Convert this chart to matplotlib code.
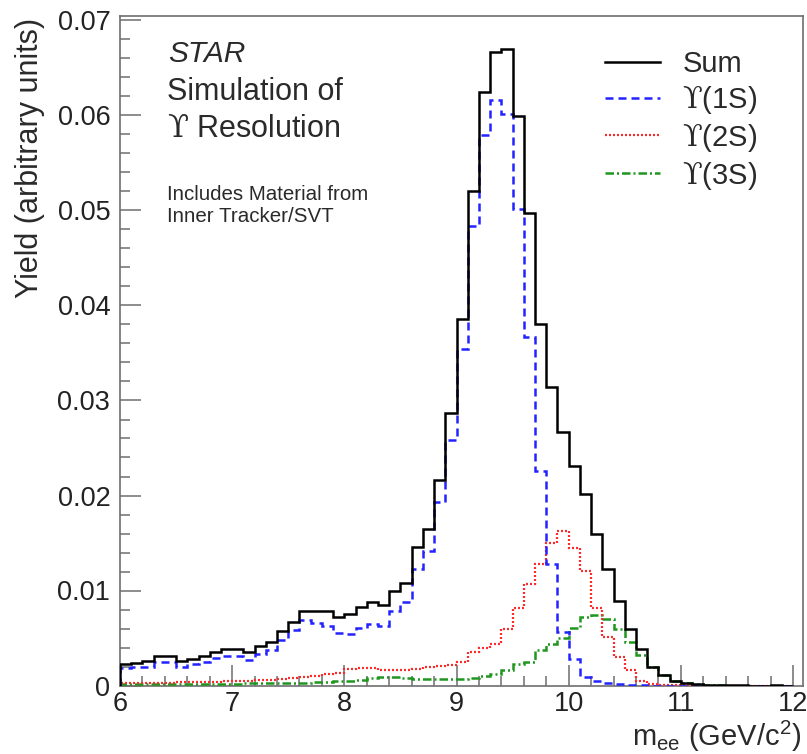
import numpy as np
import matplotlib
matplotlib.use("Agg")
import matplotlib.pyplot as plt
from matplotlib.ticker import MultipleLocator, FuncFormatter
from matplotlib.lines import Line2D

plt.rcParams['font.family'] = ['Liberation Sans', 'DejaVu Sans']
plt.rcParams['mathtext.fontset'] = 'custom'
plt.rcParams['mathtext.rm'] = 'Liberation Sans'
plt.rcParams['mathtext.it'] = 'Liberation Sans:italic'
plt.rcParams['mathtext.sf'] = 'DejaVu Serif'

# ---- data: 60 bins of 0.1 GeV from 6 to 12 ----
bin_edges = np.round(np.arange(6.0, 12.0001, 0.1), 2)

sum_vals = [
    0.0023, 0.0024, 0.0026, 0.0031, 0.0031, 0.0026, 0.0028, 0.0031, 0.0035, 0.0038,
    0.0038, 0.0035, 0.0042, 0.0046, 0.0057, 0.0067, 0.0078, 0.0078, 0.0078, 0.0072,
    0.0075, 0.0083, 0.0088, 0.0085, 0.0100, 0.0108, 0.0146, 0.0165, 0.0216, 0.0287,
    0.0386, 0.0521, 0.0625, 0.0667, 0.0670, 0.0599, 0.0497, 0.0381, 0.0314, 0.0267,
    0.0231, 0.0202, 0.0160, 0.0123, 0.0089, 0.0060, 0.0038, 0.0020, 0.0011, 0.0005,
    0.0003, 0.0002, 0.0001, 0.0001, 0.0001, 0.0001, 0.0000, 0.0000, 0.0001, 0.0000,
]
ups1s_vals = [
    0.0018, 0.0019, 0.0020, 0.0025, 0.0025, 0.0020, 0.0023, 0.0025, 0.0029, 0.0031,
    0.0031, 0.0027, 0.0033, 0.0037, 0.0048, 0.0058, 0.0069, 0.0066, 0.0063, 0.0055,
    0.0054, 0.0061, 0.0065, 0.0063, 0.0078, 0.0088, 0.0123, 0.0142, 0.0193, 0.0258,
    0.0354, 0.0484, 0.0579, 0.0616, 0.0602, 0.0502, 0.0367, 0.0226, 0.0128, 0.0056,
    0.0028, 0.0009, 0.0005, 0.0003, 0.0002, 0.0001, 0.0001, 0.0000, 0.0000, 0.0000,
    0.0000, 0.0000, 0.0000, 0.0000, 0.0000, 0.0000, 0.0000, 0.0000, 0.0000, 0.0000,
]
ups2s_vals = [
    0.0003, 0.0003, 0.0003, 0.0003, 0.0003, 0.0004, 0.0004, 0.0004, 0.0004, 0.0005,
    0.0005, 0.0005, 0.0006, 0.0006, 0.0007, 0.0008, 0.0009, 0.0010, 0.0012, 0.0013,
    0.0017, 0.0018, 0.0018, 0.0016, 0.0016, 0.0016, 0.0017, 0.0019, 0.0021, 0.0022,
    0.0025, 0.0035, 0.0040, 0.0044, 0.0060, 0.0082, 0.0107, 0.0128, 0.0150, 0.0163,
    0.0145, 0.0121, 0.0082, 0.0051, 0.0030, 0.0016, 0.0005, 0.0002, 0.0001, 0.0001,
    0.0001, 0.0000, 0.0000, 0.0000, 0.0000, 0.0000, 0.0000, 0.0000, 0.0000, 0.0000,
]
ups3s_vals = [
    0.0002, 0.0002, 0.0002, 0.0002, 0.0002, 0.0002, 0.0002, 0.0002, 0.0002, 0.0002,
    0.0002, 0.0003, 0.0003, 0.0003, 0.0003, 0.0003, 0.0003, 0.0004, 0.0004, 0.0005,
    0.0005, 0.0006, 0.0008, 0.0009, 0.0009, 0.0008, 0.0007, 0.0007, 0.0007, 0.0007,
    0.0007, 0.0008, 0.0010, 0.0012, 0.0016, 0.0023, 0.0025, 0.0037, 0.0044, 0.0050,
    0.0061, 0.0072, 0.0074, 0.0070, 0.0060, 0.0046, 0.0032, 0.0019, 0.0011, 0.0005,
    0.0003, 0.0002, 0.0001, 0.0001, 0.0000, 0.0000, 0.0000, 0.0000, 0.0000, 0.0000,
]
UPS = "$\\mathsf{\u03d2}$"
legend_labels = ["Sum", UPS + "(1S)", UPS + "(2S)", UPS + "(3S)"]
y_ticks = [0.0, 0.01, 0.02, 0.03, 0.04, 0.05, 0.06, 0.07]
x_ticks = [6, 7, 8, 9, 10, 11, 12]

# ---- figure ----
W, H = 807, 754
fig = plt.figure(figsize=(W / 100, H / 100), dpi=100)

def fx(px):
    return px / W

def fy(py):
    return 1 - py / H

x_left_px, x_per_gev = 120.0, 112.17
y0_px, y_per_unit = 685.5, 9500.0
xmax = 12.09
ymax = 0.07 + (y0_px - 0.07 * y_per_unit - 15.5) / y_per_unit
ax_left = fx(x_left_px)
ax_right = fx(x_left_px + (xmax - 6) * x_per_gev)
ax_bottom = fy(y0_px)
ax_top = fy(15.5)
ax = fig.add_axes([ax_left, ax_bottom, ax_right - ax_left, ax_top - ax_bottom])

styles = [
    dict(color="black", lw=1.8, linestyle="-"),
    dict(color="#2323ff", lw=1.8, linestyle=(0, (3.2, 2.0))),
    dict(color="#ff2a2a", lw=1.6, linestyle=(0, (0.9, 0.9))),
    dict(color="#1f961f", lw=1.8, linestyle=(0, (3.4, 1.2, 0.8, 1.2))),
]
series = [sum_vals, ups1s_vals, ups2s_vals, ups3s_vals]
order = [3, 2, 1, 0]
for i in order:
    ax.stairs(series[i], bin_edges, baseline=0, fill=False, **styles[i], zorder=3 + (3 - i))

ax.set_xlim(6, xmax)
ax.set_ylim(0, ymax)

frame_col = "#6e6e6e"
for s in ax.spines.values():
    s.set_color(frame_col)
    s.set_linewidth(1.2)

ax.xaxis.set_minor_locator(MultipleLocator(0.2))
ax.yaxis.set_minor_locator(MultipleLocator(0.002))
ax.set_xticks(x_ticks)
ax.set_yticks(y_ticks)
ax.yaxis.set_major_formatter(FuncFormatter(lambda v, p: "0" if abs(v) < 1e-9 else f"{v:.2f}"))
ax.xaxis.set_major_formatter(FuncFormatter(lambda v, p: f"{int(round(v))}"))
ax.tick_params(axis="both", which="major", direction="in", length=15, width=1.1,
               color=frame_col, labelsize=19.5, labelcolor="#222222")
ax.tick_params(axis="both", which="minor", direction="in", length=7, width=1.1, color=frame_col)
ax.tick_params(axis="y", which="major", pad=7)
ax.tick_params(axis="x", which="major", pad=4)

# ---- texts ----
tcol = "#2a2a2a"
fig.text(fx(168), fy(62), "STAR", fontsize=21.5, style="italic", color=tcol, va="baseline", ha="left")
fig.text(fx(167), fy(100), "Simulation of", fontsize=22, color=tcol, va="baseline", ha="left")
fig.text(fx(167), fy(137), UPS + " Resolution", fontsize=22, color=tcol, va="baseline", ha="left")
fig.text(fx(167), fy(200), "Includes Material from", fontsize=14.8, color=tcol, va="baseline", ha="left")
fig.text(fx(167), fy(222), "Inner Tracker/SVT", fontsize=14.8, color=tcol, va="baseline", ha="left")

fig.text(fx(30), fy(18), "Yield (arbitrary units)", fontsize=22, rotation=90,
         ha="center", va="top", color=tcol)
fig.text(fx(801), fy(746), r"m$_{\rm ee}$ (GeV/c$^{\rm 2}$)", fontsize=21,
         ha="right", va="baseline", color=tcol)

# ---- legend ----
handles = [Line2D([], [], **styles[i]) for i in range(4)]
leg = ax.legend(handles, legend_labels, loc="upper left",
                bbox_to_anchor=(fx(605), fy(50)), bbox_transform=fig.transFigure,
                frameon=False, fontsize=21, handlelength=1.9, handletextpad=0.75,
                labelspacing=0.2, borderpad=0.0, borderaxespad=0.0)
for t in leg.get_texts():
    t.set_color(tcol)

fig.savefig("out.png", dpi=100)
